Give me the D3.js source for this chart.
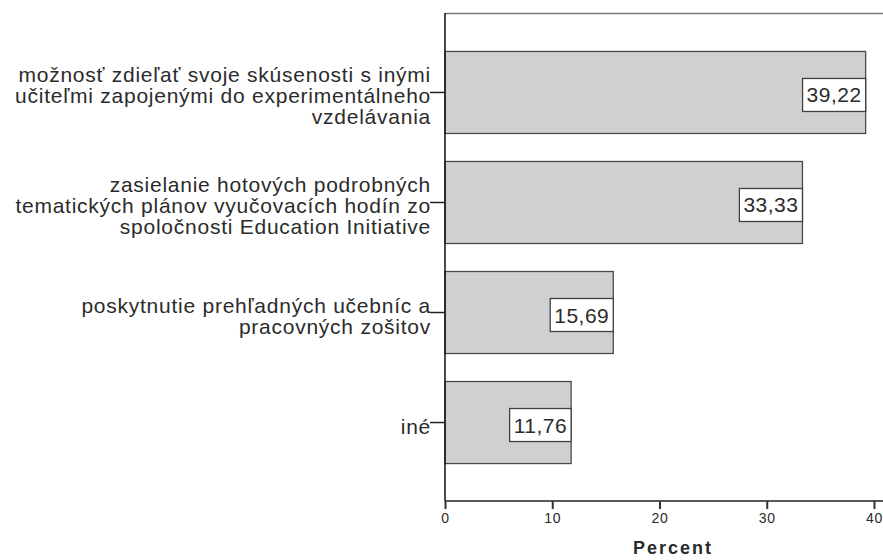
<!DOCTYPE html>
<html>
<head>
<meta charset="utf-8">
<script src="https://cdn.jsdelivr.net/npm/d3@7"></script>
<style>
  body { margin: 0; background: #fff; }
  svg { display: block; }
  text { font-family: "Liberation Sans", Arial, sans-serif; fill: #2b2b2b; }
</style>
</head>
<body>
<svg id="chart" width="883" height="560"></svg>
<script>
// Categories (each split into its display lines) and their percentages
const categories = [
  "možnosť zdieľať svoje skúsenosti s inými učiteľmi zapojenými do experimentálneho vzdelávania",
  "zasielanie hotových podrobných tematických plánov vyučovacích hodín zo spoločnosti Education Initiative",
  "poskytnutie prehľadných učebníc a pracovných zošitov",
  "iné"
];
const categoryLines = [
  ["možnosť zdieľať svoje skúsenosti s inými", "učiteľmi zapojenými do experimentálneho", "vzdelávania"],
  ["zasielanie hotových podrobných", "tematických plánov vyučovacích hodín zo", "spoločnosti Education Initiative"],
  ["poskytnutie prehľadných učebníc a", "pracovných zošitov"],
  ["iné"]
];
const percents = [39.22, 33.33, 15.69, 11.76];
const xTicks = [0, 10, 20, 30, 40];
const xTitle = "Percent";

const W = 883, H = 560;
const plotLeft = 445, plotTop = 13, plotBottom = 501, xMaxPx = 874;

const svg = d3.select("#chart");

const x = d3.scaleLinear().domain([0, 40]).range([plotLeft, xMaxPx]);
const y = d3.scaleBand().domain(categories).range([plotTop, plotBottom])
  .paddingInner(0.2545).paddingOuter(0.345);

const fmt = v => v.toFixed(2).replace(".", ",");

// frame top line
svg.append("line")
  .attr("x1", plotLeft).attr("x2", W).attr("y1", plotTop + 0.5).attr("y2", plotTop + 0.5)
  .attr("stroke", "#777").attr("stroke-width", 1.5);

// bars
svg.append("g").selectAll("rect")
  .data(percents)
  .join("rect")
  .attr("x", x(0))
  .attr("y", (d, i) => y(categories[i]) + 0.5)
  .attr("width", d => x(d) - x(0))
  .attr("height", y.bandwidth())
  .attr("fill", "#d0d0d0")
  .attr("stroke", "#4a4a4a")
  .attr("stroke-width", 1.3);

// x axis
const xAxis = svg.append("g")
  .attr("transform", `translate(0,${plotBottom})`)
  .call(d3.axisBottom(x).tickValues(xTicks).tickFormat(d3.format("d")).tickSize(8).tickPadding(4));
xAxis.select(".domain").attr("stroke", "#222").attr("stroke-width", 1.5).attr("d", `M${plotLeft},0H${W}`);
xAxis.selectAll(".tick line").attr("stroke", "#333").attr("stroke-width", 2);
xAxis.selectAll(".tick text")
  .style("font-family", "'Liberation Sans', Arial, sans-serif")
  .style("font-size", "14px").style("letter-spacing", "0.6px")
  .attr("fill", "#222");

// x axis title
svg.append("text")
  .attr("x", 673)
  .attr("y", 554)
  .attr("text-anchor", "middle")
  .style("font-size", "18px").style("font-weight", "bold").style("letter-spacing", "2px")
  .attr("fill", "#111")
  .text(xTitle);

// y axis line and ticks
svg.append("line")
  .attr("x1", plotLeft).attr("x2", plotLeft).attr("y1", plotTop).attr("y2", plotBottom)
  .attr("stroke", "#111").attr("stroke-width", 1.5);

const yTicks = svg.append("g").selectAll("g")
  .data(categories)
  .join("g")
  .attr("transform", d => `translate(0,${y(d) + y.bandwidth() / 2})`);

yTicks.append("line")
  .attr("x1", plotLeft - 15).attr("x2", plotLeft).attr("y1", 0.5).attr("y2", 0.5)
  .attr("stroke", "#222").attr("stroke-width", 1.5);

const lineGap = 21;
yTicks.each(function (d, i) {
  const lines = categoryLines[i];
  const t = d3.select(this).append("text")
    .attr("text-anchor", "end")
    .attr("fill", "#222")
    .style("font-size", "21px")
    .style("letter-spacing", "0.75px");
  lines.forEach((ln, k) => {
    t.append("tspan")
      .attr("x", plotLeft - 14)
      .attr("y", 4 + (k - (lines.length - 1) / 2) * lineGap + 7.5)
      .text(ln);
  });
});

// value labels in white boxes at the bar ends
const labels = svg.append("g").selectAll("g")
  .data(percents)
  .join("g")
  .attr("transform", (d, i) => `translate(${x(d)},${y(categories[i]) + y.bandwidth() / 2 + 3})`);

labels.each(function (d) {
  const g = d3.select(this);
  const rect = g.append("rect");
  const txt = g.append("text")
    .attr("text-anchor", "end")
    .attr("x", -4)
    .attr("y", 7.5)
    .attr("fill", "#222")
    .style("font-size", "21px")
    .style("letter-spacing", "0.5px")
    .text(fmt(d));
  const w = txt.node().getComputedTextLength();
  rect.attr("x", -(w + 8)).attr("y", -16.5)
    .attr("width", w + 8).attr("height", 33)
    .attr("fill", "#fff").attr("stroke", "#404040").attr("stroke-width", 1.3);
});
</script>
</body>
</html>
